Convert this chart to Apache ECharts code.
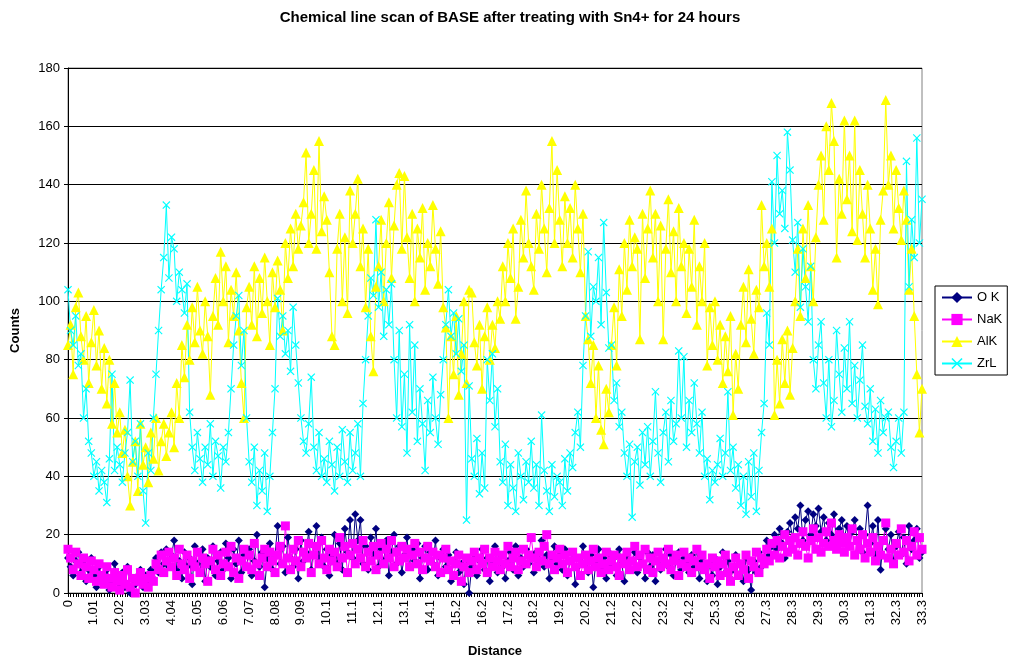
<!DOCTYPE html>
<html>
<head>
<meta charset="utf-8">
<script src="https://cdn.jsdelivr.net/npm/echarts@6/dist/echarts.min.js"></script>
<style>
html, body { margin: 0; padding: 0; background: #fff; }
#chart { width: 1011px; height: 663px; }
</style>
</head>
<body>
<div id="chart"></div>
<script>
// distance step between scan points
var step = 0.101;
var pointCount = 331;

var okValues = [
	12, 9, 6, 11, 14, 7, 10, 4, 8, 12,
	6, 2, 9, 5, 3, 8, 1, 4, 10, 6,
	3, 7, 2, 9, 0, 5, 3, 6, 8, 2,
	6, 3, 8, 5, 12, 7, 14, 10, 15, 9,
	13, 18, 8, 11, 5, 14, 9, 12, 3, 16,
	10, 7, 15, 4, 12, 9, 16, 6, 11, 14,
	8, 17, 12, 5, 15, 10, 18, 7, 13, 9,
	15, 6, 11, 20, 9, 14, 2, 12, 17, 8,
	13, 23, 10, 16, 7, 19, 12, 9, 15, 5,
	18, 11, 14, 21, 8, 16, 23, 12, 19, 9,
	15, 6, 13, 20, 10, 17, 8, 22, 14, 25,
	12, 27, 18, 25, 10, 16, 8, 19, 13, 22,
	9, 15, 11, 18, 6, 14, 20, 10, 16, 7,
	13, 19, 9, 15, 11, 17, 5, 12, 16, 8,
	14, 10, 18, 6, 12, 15, 9, 13, 4, 11,
	14, 7, 10, 3, 12, 0, 9, 13, 6, 11,
	15, 8, 12, 4, 10, 16, 7, 13, 9, 5,
	11, 14, 8, 16, 6, 12, 9, 15, 10, 13,
	7, 14, 11, 18, 9, 13, 5, 12, 16, 10,
	13, 8, 15, 6, 11, 14, 3, 9, 12, 16,
	10, 7, 13, 2, 11, 15, 8, 12, 5, 14,
	9, 12, 6, 15, 10, 4, 13, 8, 11, 14,
	7, 12, 10, 5, 14, 9, 13, 4, 11, 8,
	12, 15, 9, 13, 6, 11, 14, 8, 12, 10,
	7, 13, 9, 15, 5, 11, 8, 4, 10, 6,
	12, 3, 9, 14, 7, 11, 5, 8, 13, 6,
	10, 4, 12, 8, 1, 11, 7, 14, 9, 12,
	18, 13, 16, 20, 15, 22, 17, 12, 21, 24,
	19, 26, 22, 30, 18, 25, 28, 20, 27, 23,
	29, 21, 26, 18, 24, 20, 27, 17, 22, 25,
	19, 23, 16, 21, 25, 18, 22, 14, 20, 30,
	17, 23, 12, 25, 8, 18, 22, 15, 20, 11,
	16, 21, 13, 19, 10, 23, 15, 18, 22, 12,
	14
];

var nakValues = [
	15, 12, 8, 14, 10, 6, 12, 9, 5, 11,
	8, 4, 10, 6, 3, 9, 5, 2, 7, 4,
	1, 6, 3, 8, 2, 5, 0, 4, 7, 3,
	5, 2, 6, 4, 10, 8, 13, 7, 11, 14,
	9, 12, 6, 15, 10, 8, 13, 5, 11, 9,
	14, 7, 12, 10, 4, 11, 15, 8, 13, 6,
	10, 14, 9, 16, 7, 12, 5, 11, 15, 9,
	13, 8, 17, 10, 6, 12, 15, 9, 14, 11,
	7, 13, 16, 10, 23, 12, 8, 15, 11, 18,
	9, 14, 12, 17, 7, 13, 16, 10, 18, 12,
	8, 15, 11, 14, 9, 19, 12, 16, 7, 13,
	17, 10, 15, 12, 18, 9, 14, 11, 16, 8,
	13, 17, 10, 15, 12, 18, 9, 14, 11, 16,
	12, 15, 9, 13, 17, 10, 14, 8, 12, 16,
	11, 14, 9, 13, 7, 12, 15, 8, 11, 6,
	10, 13, 4, 9, 12, 7, 11, 14, 8, 12,
	10, 15, 7, 12, 9, 14, 11, 8, 13, 10,
	16, 9, 12, 14, 8, 11, 15, 10, 13, 19,
	12, 9, 14, 11, 16, 20, 10, 13, 8, 12,
	15, 10, 13, 7, 11, 14, 9, 12, 6, 10,
	13, 8, 11, 15, 9, 12, 7, 10, 14, 8,
	11, 13, 9, 6, 12, 10, 14, 8, 11, 16,
	9, 13, 10, 15, 8, 12, 7, 11, 14, 9,
	12, 10, 15, 8, 11, 13, 6, 10, 14, 9,
	12, 7, 11, 15, 9, 13, 8, 10, 5, 12,
	9, 11, 6, 10, 13, 7, 4, 9, 12, 6,
	10, 8, 13, 5, 11, 9, 14, 7, 12, 10,
	15, 11, 17, 13, 18, 12, 16, 20, 14, 18,
	15, 19, 13, 17, 21, 16, 12, 18, 22, 15,
	19, 14, 17, 21, 16, 24, 18, 15, 20, 17,
	14, 19, 16, 22, 13, 18, 15, 20, 12, 17,
	14, 19, 11, 16, 13, 18, 24, 12, 15, 10,
	17, 13, 22, 14, 18, 11, 16, 21, 13, 19,
	15
];

var alkValues = [
	85, 92, 75, 98, 103, 88, 80, 95, 72, 86,
	97, 78, 90, 70, 84, 65, 80, 58, 72, 55,
	62, 48, 56, 40, 30, 45, 52, 35, 58, 44,
	50, 38, 55, 46, 60, 42, 52, 58, 47, 55,
	62, 50, 72, 60, 85, 74, 92, 80, 98, 86,
	105, 90, 82, 100, 88, 68, 95, 108, 92, 117,
	100, 112, 86, 104, 95, 110, 90, 72, 60, 98,
	105, 92, 112, 88, 108, 96, 115, 100, 85, 110,
	98, 114, 104, 90, 120, 108, 125, 112, 130, 118,
	126, 134, 151, 120, 130, 145, 118, 155, 124, 136,
	128, 110, 88, 85, 118, 130, 100, 122, 96, 138,
	120, 130, 142, 112, 125, 98, 118, 88, 76, 105,
	112, 128, 100, 120, 134, 108, 126, 140, 144, 118,
	143, 122, 108, 130, 100, 125, 115, 132, 104, 120,
	112, 133, 118, 106, 124, 98, 91, 60, 88, 75,
	95, 68, 82, 100, 72, 104, 103, 86, 78, 92,
	70, 88, 98, 80, 92, 84, 100, 94, 112, 100,
	120, 108, 125, 94, 105, 128, 115, 138, 120, 112,
	104, 130, 118, 140, 125, 110, 132, 155, 120, 145,
	128, 112, 136, 120, 132, 115, 140, 125, 110, 130,
	95, 87, 72, 85, 60, 78, 56, 51, 70, 62,
	85, 98, 78, 111, 95, 120, 104, 128, 112, 122,
	118, 87, 130, 108, 125, 138, 115, 130, 100, 126,
	87, 118, 135, 110, 124, 100, 132, 112, 120, 96,
	118, 105, 128, 92, 112, 100, 120, 78, 98, 85,
	100, 80, 92, 72, 88, 76, 95, 61, 82, 70,
	92, 105, 86, 111, 94, 82, 104, 98, 133, 112,
	120, 105, 125, 61, 80, 65, 87, 72, 90, 68,
	84, 100, 118, 95, 125, 108, 133, 112, 100, 122,
	140, 150, 128, 160, 145, 168, 155, 115, 142, 130,
	162, 135, 150, 124, 162, 121, 145, 130, 115, 140,
	125, 104, 118, 99, 128, 138, 169, 140, 150, 125,
	145, 132, 121, 138, 128, 104, 118, 95, 75, 55,
	70
];

var zrlValues = [
	104, 90, 85, 95, 78, 82, 60, 70, 52, 48,
	40, 45, 35, 42, 38, 31, 46, 75, 42, 50,
	44, 38, 48, 55, 73, 45, 52, 40, 58, 35,
	24, 48, 42, 60, 75, 90, 104, 115, 133, 108,
	122, 118, 100, 110, 104, 96, 106, 62, 50, 42,
	55, 46, 38, 50, 44, 58, 40, 52, 47, 36,
	50, 45, 55, 70, 85, 95, 102, 78, 90, 60,
	45, 38, 50, 30, 42, 35, 48, 28, 40, 55,
	70, 101, 88, 95, 82, 90, 76, 98, 85, 72,
	60, 52, 48, 58, 74, 50, 42, 55, 40, 46,
	38, 52, 44, 35, 50, 40, 56, 45, 38, 55,
	42, 48, 58, 40, 65, 80, 95, 108, 102, 128,
	98, 110, 88, 104, 92, 106, 80, 60, 90, 57,
	75, 48, 92, 62, 85, 52, 70, 58, 42, 66,
	55, 74, 60, 51, 68, 80, 92, 104, 88, 96,
	82, 94, 76, 85, 25, 71, 46, 40, 53, 34,
	48, 36, 80, 66, 82, 57, 70, 45, 38, 51,
	30, 44, 36, 28, 48, 40, 32, 45, 38, 52,
	36, 44, 30, 61, 42, 35, 28, 44, 33, 40,
	38, 30, 46, 35, 48, 43, 55, 62, 50, 78,
	95, 117, 88, 105, 100, 115, 92, 127, 103, 84,
	85, 66, 72, 57, 62, 48, 40, 51, 26, 45,
	50, 37, 55, 44, 57, 40, 52, 69, 48, 38,
	55, 62, 45, 66, 52, 58, 83, 60, 81, 50,
	66, 55, 72, 58, 48, 62, 40, 46, 32, 42,
	38, 44, 53, 40, 48, 69, 42, 50, 36, 44,
	30, 40, 27, 45, 33, 48, 28, 42, 55, 65,
	96, 85, 141, 120, 150, 130, 138, 125, 158, 145,
	121, 110, 127, 98, 118, 105, 93, 112, 80, 70,
	85, 93, 72, 60, 80, 57, 66, 90, 75, 62,
	84, 70, 93, 65, 78, 60, 73, 85, 64, 58,
	70, 52, 63, 48, 66, 55, 60, 62, 50, 43,
	52, 60, 48, 62, 148, 105, 128, 115, 156, 120,
	135
];

var yTicks = { min: 0, max: 180, interval: 20 };

var categories = [];
for (var i = 0; i < pointCount; i++) {
	categories.push(String(Number((i * step).toFixed(3))));
}

var fontFamily = 'Liberation Sans, Arial, sans-serif';
var crossPath = 'path://M0,1 L1,0 L5,4 L9,0 L10,1 L6,5 L10,9 L9,10 L5,6 L1,10 L0,9 L4,5 Z';

function makeSeries(name, data, color, symbol, size) {
	return {
		name: name,
		type: 'line',
		data: data,
		symbol: symbol,
		symbolSize: size,
		showAllSymbol: true,
		lineStyle: { color: color, width: 1 },
		itemStyle: { color: color, borderWidth: 0 },
		emphasis: { disabled: true }
	};
}

var option = {
	animation: false,
	backgroundColor: '#fff',
	textStyle: { fontFamily: fontFamily, color: '#000' },
	title: {
		text: 'Chemical line scan of BASE after treating with Sn4+ for 24 hours',
		left: 505,
		textAlign: 'center',
		top: 5,
		textStyle: { fontFamily: fontFamily, fontSize: 15, fontWeight: 'bold', color: '#000' }
	},
	legend: {
		orient: 'vertical',
		left: 935,
		top: 286,
		padding: [5, 5, 5, 6],
		itemGap: 9,
		itemWidth: 30,
		itemHeight: 14,
		backgroundColor: '#fff',
		borderColor: '#000',
		borderWidth: 1,
		borderRadius: 0,
		textStyle: { fontFamily: fontFamily, fontSize: 13, color: '#000' },
		data: ['O K', 'NaK', 'AlK', 'ZrL']
	},
	grid: { left: 68, right: 89, top: 68, bottom: 66, containLabel: false, show: true, borderColor: '#808080', borderWidth: 1 },
	xAxis: {
		type: 'category',
		data: categories,
		boundaryGap: false,
		name: 'Distance',
		nameLocation: 'middle',
		nameGap: 52,
		nameTextStyle: { fontFamily: fontFamily, fontSize: 13, fontWeight: 'bold', color: '#000' },
		axisLine: { lineStyle: { color: '#000', width: 1 } },
		axisTick: { interval: 0, length: 4, lineStyle: { color: '#000' } },
		axisLabel: {
			interval: 9,
			rotate: 90,
			fontSize: 13,
			color: '#000',
			fontFamily: fontFamily,
			margin: 7,
			formatter: function (v) { return String(Number(Number(v).toPrecision(3))); }
		},
		splitLine: { show: false }
	},
	yAxis: {
		type: 'value',
		min: yTicks.min,
		max: yTicks.max,
		interval: yTicks.interval,
		name: 'Counts',
		nameLocation: 'middle',
		nameGap: 46,
		nameRotate: 90,
		nameTextStyle: { fontFamily: fontFamily, fontSize: 13, fontWeight: 'bold', color: '#000' },
		axisLine: { show: true, lineStyle: { color: '#000', width: 1 } },
		axisTick: { show: true, length: 4, lineStyle: { color: '#000' } },
		axisLabel: { fontSize: 13, color: '#000', fontFamily: fontFamily, margin: 8 },
		splitLine: { show: true, lineStyle: { color: '#000', width: 1 } }
	},
	series: [
		makeSeries('O K', okValues, '#000080', 'diamond', 8),
		makeSeries('NaK', nakValues, '#FF00FF', 'rect', 9),
		makeSeries('AlK', alkValues, '#FFFF00', 'triangle', 10),
		makeSeries('ZrL', zrlValues, '#00FFFF', crossPath, 8)
	]
};

var chart = echarts.init(document.getElementById('chart'));
chart.setOption(option);
</script>
</body>
</html>
